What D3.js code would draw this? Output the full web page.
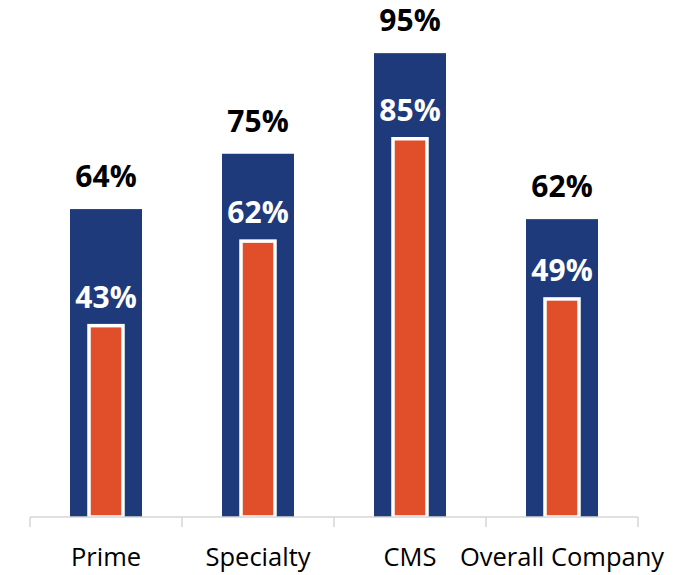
<!DOCTYPE html>
<html>
<head>
<meta charset="utf-8">
<script src="https://d3js.org/d3.v7.min.js"></script>
<style>
  body { margin: 0; background: #fff; }
  text { font-family: "Open Sans", "Noto Sans", sans-serif; }
</style>
</head>
<body>
<svg width="689" height="575"></svg>
<script>
// chart data
var categories = ["Prime", "Specialty", "CMS", "Overall Company"];
var outerValues = [64, 75, 95, 62];
var innerValues = [43, 62, 85, 49];

var svg = d3.select("svg");
var left = 30, right = 638, base = 517;

var x = d3.scaleBand().domain(categories).range([left, right]);
// primary (outer bars) and secondary (inner bars) value axes
var y = d3.scaleLinear().domain([0, 100]).range([531, 28]);
var y2 = d3.scaleLinear().domain([0, 100]).range([base, 72]);

var data = categories.map(function(c, i) {
  return { cat: c, outer: outerValues[i], inner: innerValues[i] };
});

var outerW = 72, innerW = 34;

// outer (blue) bars
svg.selectAll(".outer")
  .data(data)
  .enter().append("rect")
  .attr("class", "outer")
  .attr("x", function(d) { return x(d.cat) + x.bandwidth() / 2 - outerW / 2; })
  .attr("y", function(d) { return y(d.outer); })
  .attr("width", outerW)
  .attr("height", function(d) { return base - y(d.outer); })
  .attr("fill", "#1f3a7b");

// inner (orange) bars with white edge
svg.selectAll(".inner")
  .data(data)
  .enter().append("rect")
  .attr("class", "inner")
  .attr("x", function(d) { return x(d.cat) + x.bandwidth() / 2 - innerW / 2; })
  .attr("y", function(d) { return y2(d.inner); })
  .attr("width", innerW)
  .attr("height", function(d) { return base - y2(d.inner); })
  .attr("fill", "#e14f2a")
  .attr("stroke", "#fff")
  .attr("stroke-width", 3.5);

// axis
var axis = svg.append("g").attr("transform", "translate(0," + base + ")");
axis.append("line")
  .attr("x1", left).attr("x2", right)
  .attr("stroke", "#d6d6d6").attr("stroke-width", 1.5);
var ticks = categories.map(function(c) { return x(c); }).concat([right]);
axis.selectAll(".tick")
  .data(ticks)
  .enter().append("line")
  .attr("x1", function(d) { return d; })
  .attr("x2", function(d) { return d; })
  .attr("y1", 0).attr("y2", 10)
  .attr("stroke", "#d6d6d6").attr("stroke-width", 1.5);

// category labels
svg.selectAll(".cat")
  .data(data)
  .enter().append("text")
  .attr("x", function(d) { return x(d.cat) + x.bandwidth() / 2; })
  .attr("y", 566)
  .attr("text-anchor", "middle")
  .attr("font-size", "25.5px")
  .attr("fill", "#000")
  .text(function(d) { return d.cat; });

// outer value labels
svg.selectAll(".lblOuter")
  .data(data)
  .enter().append("text")
  .attr("x", function(d) { return x(d.cat) + x.bandwidth() / 2; })
  .attr("y", function(d) { return y(d.outer) - 22; })
  .attr("text-anchor", "middle")
  .attr("font-size", "30px")
  .attr("font-weight", "bold")
  .attr("fill", "#000")
  .text(function(d) { return d.outer + "%"; });

// inner value labels
svg.selectAll(".lblInner")
  .data(data)
  .enter().append("text")
  .attr("x", function(d) { return x(d.cat) + x.bandwidth() / 2; })
  .attr("y", function(d) { return y2(d.inner) - 18; })
  .attr("text-anchor", "middle")
  .attr("font-size", "30px")
  .attr("font-weight", "bold")
  .attr("fill", "#fff")
  .text(function(d) { return d.inner + "%"; });
</script>
</body>
</html>
